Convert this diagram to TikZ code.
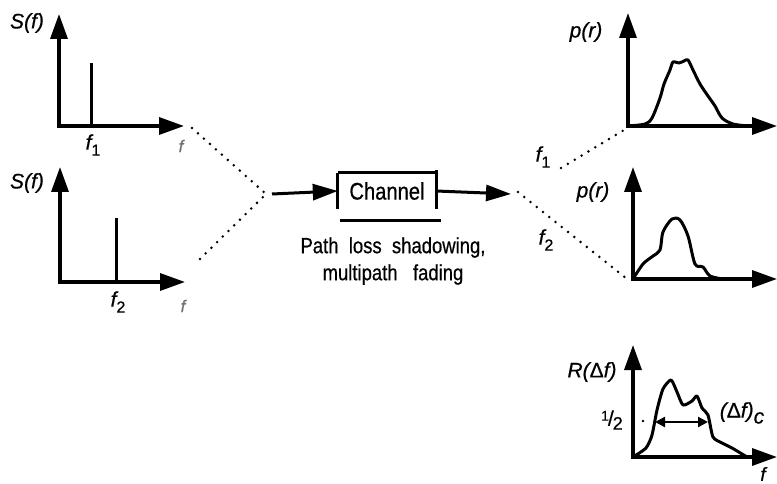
\documentclass[tikz,border=0pt]{standalone}
\usepackage{fontspec}
\setmainfont{Liberation Sans}[FakeBold=0.6]
\newfontfamily\narrowfont{Liberation Sans}[FakeStretch=0.84,FakeBold=0.6]
\usetikzlibrary{arrows.meta}
\begin{document}
\begin{tikzpicture}[x=1pt,y=-1pt,
  axes/.style={line width=3.4pt,line join=miter,
    {Triangle[length=25pt,width=17pt]}-{Triangle[length=25pt,width=17pt]}},
  flow/.style={line width=3pt,-{Triangle[length=25pt,width=16pt]}},
  spike/.style={line width=3pt},
  curve/.style={line width=3pt,line join=round,line cap=round},
  dotline/.style={line width=2.8pt,line cap=round,dash pattern=on 0pt off 8pt},
  lbl/.style={font=\fontsize{21}{23}\selectfont\itshape,inner sep=0pt},
  graylbl/.style={lbl,text=black!55,font=\fontsize{17}{19}\selectfont\itshape},
  caption/.style={font=\narrowfont\fontsize{22}{27}\selectfont,align=center,inner sep=0pt},
  barline/.style={line width=3pt}]
\useasboundingbox (0,0) rectangle (777,484);

\newcommand\lowidx[1]{\raisebox{-6pt}{\upshape\fontsize{16}{16}\selectfont #1}}

% ---- input spectrum 1
\coordinate (oA) at (59,126);
\draw[axes] (59,14) -- (oA) -- (184,126);
\draw[spike] (91,63) -- (91,126);
\node[lbl] (sA) at (27,23) {S(f)};
\node[lbl] (fA) at (93,145) {f\lowidx{1}};
\node[graylbl] (gA) at (181,146) {f};

% ---- input spectrum 2
\coordinate (oB) at (60,282);
\draw[axes] (60,167) -- (oB) -- (185,282);
\draw[spike] (116,218) -- (116,282);
\node[lbl] (sB) at (27,183) {S(f)};
\node[lbl] (fB) at (118,302) {f\lowidx{2}};
\node[graylbl] (gB) at (183,306) {f};

% ---- merging dotted lines
\coordinate (mergeL) at (266,194);
\draw[dotline] (192,128) -- (mergeL);
\draw[dotline] (200,259) -- (mergeL);

% ---- channel block
\node[minimum width=98pt,minimum height=36pt,inner sep=0pt,
      font=\narrowfont\fontsize{24}{26}\selectfont] (chan) at (387,191) {\raisebox{-3pt}{Channel}};
\draw[barline] (chan.north west) -- (chan.north east);
\draw[barline] (chan.north west) -- (chan.south west);
\draw[barline] ([yshift=3pt]chan.north east) -- (chan.south east);
\draw[barline] ([xshift=2pt,yshift=-11pt]chan.south west) -- ([xshift=5pt,yshift=-11pt]chan.south east);
\coordinate (inL) at (272,194);
\coordinate (outR) at (511,194);
\draw[flow] (inL) -- (chan.west);
\draw[flow] (chan.east) -- (outR);
\node[caption] (cap) at (393,261) {Path\ \ loss\ \ shadowing,\\multipath\ \ \ fading};

% ---- fanning dotted lines to the outputs
\coordinate (splitR) at (518,192);
\draw[dotline] (561,168) -- (624,130);
\draw[dotline] (splitR) -- (627,279);
\node[lbl] (f1) at (543,157) {f\lowidx{1}};
\node[lbl] (f2) at (546,240) {f\lowidx{2}};

% ---- output pdf 1
\coordinate (oC) at (628,126);
\draw[axes] (628,13) -- (oC) -- (777,126);
\draw[curve] plot[smooth,tension=0.5] coordinates {(628,126) (645,124) (652,118) (660,98) (664,84) (670,70) (673,62) (679,63) (684,61) (688,60) (693,70) (700,84) (708,96) (715,106) (722,118) (733,124) (748,126)};
\node[lbl] (pC) at (586,32) {p(r)};

% ---- output pdf 2
\coordinate (oD) at (633,279);
\draw[axes] (633,167) -- (oD) -- (777,279);
\draw[curve] plot[smooth,tension=0.5] coordinates {(633,279) (643,264) (653,256) (660,250) (663,232) (672,219) (680,220) (688,236) (695,264) (703,267) (710,276) (723,279)};
\node[lbl] (pD) at (593,192) {p(r)};

% ---- frequency correlation
\coordinate (oE) at (633,457);
\draw[axes] (633,345) -- (oE) -- (777,457);
\draw[curve] plot[smooth,tension=0.4] coordinates {(633,457) (646,448) (652,435) (657,410) (663,389) (671,380) (677,392) (683,405) (692,401) (697,396) (702,408) (708,415) (713,437) (722,443) (732,448) (747,457)};
\draw[line width=2.4pt,{Triangle[length=10pt,width=10pt]}-{Triangle[length=10pt,width=10pt]}] (655,422) -- (708,422);
\draw[dotline] (643,421) -- (644,421);
\node[lbl] (half) at (612,420) {\upshape\raisebox{5pt}{\fontsize{14}{14}\selectfont 1}\kern-1pt/\kern-1pt\raisebox{-4pt}{\fontsize{18}{18}\selectfont 2}};
\node[lbl] (rE) at (592,372) {R({\upshape Δ}f)};
\node[lbl] (dc) at (742,413) {({\upshape Δ}f)\raisebox{-6pt}{c}};
\node[lbl,font=\fontsize{19}{21}\selectfont\itshape] (fE) at (763,474) {f};
\end{tikzpicture}
\end{document}
